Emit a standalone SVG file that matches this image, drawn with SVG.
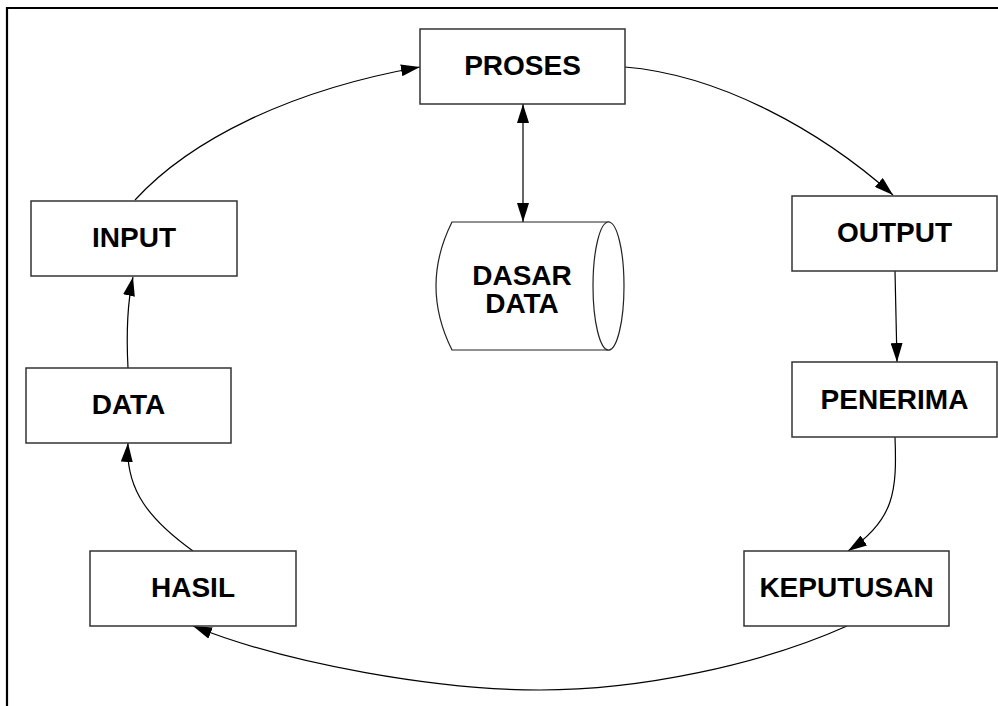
<svg xmlns="http://www.w3.org/2000/svg" width="998" height="706" viewBox="0 0 998 706">
<defs>
<style>
.box{fill:#fff;stroke:#333;stroke-width:1.5}
.lbl{font-family:"Liberation Sans",Arial,sans-serif;font-weight:bold;font-size:28px;fill:#000;text-anchor:middle}
.con{fill:none;stroke:#000;stroke-width:1.2}
</style>
<marker id="ah" viewBox="0 0 19 12" refX="19" refY="6" markerWidth="19" markerHeight="12" markerUnits="userSpaceOnUse" orient="auto">
<path d="M0,0 L19,6 L0,12 Z" fill="#000"/>
</marker>
<marker id="as" viewBox="0 0 19 12" refX="19" refY="6" markerWidth="19" markerHeight="12" markerUnits="userSpaceOnUse" orient="auto-start-reverse">
<path d="M0,0 L19,6 L0,12 Z" fill="#000"/>
</marker>
</defs>
<rect width="998" height="706" fill="#fff"/>
<path d="M7,706 L7,8 L998,8" fill="none" stroke="#000" stroke-width="2.2"/>

<g id="connectors">
<path class="con" d="M135,200 C190,140 290,90 420,67" marker-end="url(#ah)"/>
<path class="con" d="M625,67 C720,75 820,130 893,195" marker-end="url(#ah)"/>
<path class="con" d="M895,271 L897,362" marker-end="url(#ah)"/>
<path class="con" d="M895,437 C897,490 895,520 848,551" marker-end="url(#ah)"/>
<path class="con" d="M847,626 C760,665 640,690 540,690 C440,690 290,665 193,626" marker-end="url(#ah)"/>
<path class="con" d="M193,551 C150,520 125,490 128,443" marker-end="url(#ah)"/>
<path class="con" d="M128,368 C126,330 128,300 133,277" marker-end="url(#ah)"/>
<path class="con" d="M523,104 L523,222" marker-start="url(#as)" marker-end="url(#ah)"/>
</g>

<g id="proses">
<rect class="box" x="420" y="29" width="205" height="75"/>
<text class="lbl" x="522.5" y="75">PROSES</text>
</g>
<g id="input">
<rect class="box" x="31" y="201" width="206" height="75"/>
<text class="lbl" x="134" y="247">INPUT</text>
</g>
<g id="data">
<rect class="box" x="26" y="368" width="205" height="75"/>
<text class="lbl" x="128.5" y="414">DATA</text>
</g>
<g id="output">
<rect class="box" x="792" y="196" width="205" height="75"/>
<text class="lbl" x="894.5" y="242">OUTPUT</text>
</g>
<g id="penerima">
<rect class="box" x="792" y="362" width="205" height="75"/>
<text class="lbl" x="894.5" y="409">PENERIMA</text>
</g>
<g id="hasil">
<rect class="box" x="90" y="551" width="206" height="75"/>
<text class="lbl" x="193" y="597">HASIL</text>
</g>
<g id="keputusan">
<rect class="box" x="744" y="551" width="205" height="75"/>
<text class="lbl" x="846.5" y="597">KEPUTUSAN</text>
</g>
<g id="dasar-data">
<path d="M452,222 L609,222 L609,350 L452,350 Q420,286 452,222 Z" fill="#fff" stroke="#222" stroke-width="1.2"/>
<ellipse cx="608.5" cy="286" rx="15.5" ry="64" fill="#fff" stroke="#222" stroke-width="1.2"/>
<text class="lbl" x="522" y="285">DASAR</text>
<text class="lbl" x="522" y="313">DATA</text>
</g>
</svg>
